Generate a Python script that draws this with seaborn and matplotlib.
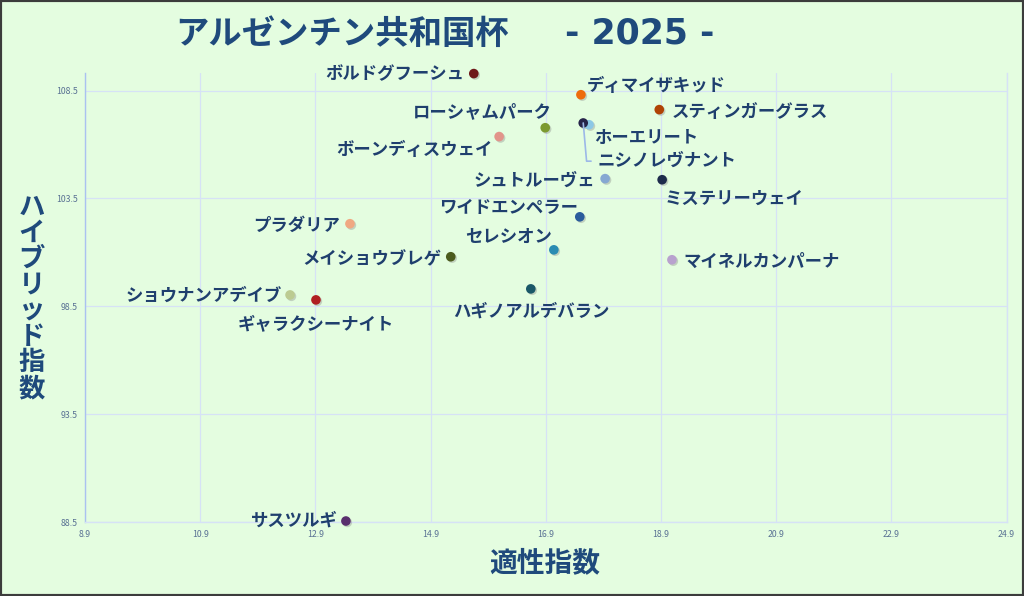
import matplotlib
matplotlib.use("Agg")
import matplotlib.pyplot as plt
import matplotlib.patheffects as pe
import seaborn as sns
import pandas as pd
from matplotlib.patches import Rectangle

names = ["ボルドグフーシュ", "ディマイザキッド", "スティンガーグラス", "ローシャムパーク",
         "ホーエリート", "ニシノレヴナント", "ボーンディスウェイ", "シュトルーヴェ",
         "ミステリーウェイ", "ワイドエンペラー", "プラダリア", "セレシオン",
         "メイショウブレゲ", "マイネルカンパーナ", "ハギノアルデバラン", "ショウナンアデイブ",
         "ギャラクシーナイト", "サスツルギ"]
aptitude = [15.65, 17.51, 18.87, 16.89, 17.65, 17.55, 16.09, 17.93,
            18.92, 17.49, 13.50, 17.04, 15.25, 19.09, 16.64, 12.46, 12.91, 13.43]
hybrid = [109.29, 108.31, 107.62, 106.78, 106.92, 107.00, 106.37, 104.42,
          104.37, 102.65, 102.33, 101.12, 100.80, 100.66, 99.31, 99.03, 98.80, 88.55]
colors = ["#6e1719", "#ee6c0c", "#b04304", "#7c9a30", "#8cc8e6", "#26244a", "#e2948a", "#86a8d2",
          "#1e2c4c", "#2a5c9c", "#f0a882", "#2a8cb2", "#4c5c1e", "#b8a2ce", "#1a5868", "#bccb92",
          "#b01f22", "#5a2f6e"]
x_ticks = [8.9, 10.9, 12.9, 14.9, 16.9, 18.9, 20.9, 22.9, 24.9]
y_ticks = [88.5, 93.5, 98.5, 103.5, 108.5]
title_main = "アルゼンチン共和国杯"
title_year = "- 2025 -"

# label placement (offset in points, horizontal alignment)
label_pos = {
    "ボルドグフーシュ": (-7, 1, "right"),
    "ディマイザキッド": (4, 8, "left"),
    "スティンガーグラス": (9, 0, "left"),
    "ローシャムパーク": (5, 13, "right"),
    "ホーエリート": (4, -8, "left"),
    "ニシノレヴナント": (10, -26, "left"),
    "ボーンディスウェイ": (-5, -8, "right"),
    "シュトルーヴェ": (-7, 0, "right"),
    "ミステリーウェイ": (2, -12, "left"),
    "ワイドエンペラー": (-1, 8, "right"),
    "プラダリア": (-7, 0, "right"),
    "セレシオン": (-1, 11, "right"),
    "メイショウブレゲ": (-7, 0, "right"),
    "マイネルカンパーナ": (8, 0, "left"),
    "ハギノアルデバラン": (0, -15, "center"),
    "ショウナンアデイブ": (-6, 1, "right"),
    "ギャラクシーナイト": (0, -16, "center"),
    "サスツルギ": (-6, 2, "right"),
}
label_dy_shift = -1.5

df = pd.DataFrame({"name": names, "x": aptitude, "y": hybrid})
palette = dict(zip(names, colors))

bg = "#e4fde0"
text_c = "#1f3f6e"
sns.set_theme(style="whitegrid")
plt.rcParams['font.family'] = ['Noto Sans CJK JP', 'DejaVu Sans']

fig = plt.figure(figsize=(10.24, 5.96), dpi=100, facecolor=bg)
ax = fig.add_axes([0.083, 0.124, 0.9, 0.754])
ax.set_facecolor(bg)

sns.scatterplot(data=df, x="x", y="y", hue="name", palette=palette, s=48,
                edgecolor="none", legend=False, ax=ax, zorder=3, clip_on=False)
for coll in ax.collections:
    coll.set_path_effects([pe.SimplePatchShadow(offset=(1, -1), shadow_rgbFace="#808080", alpha=0.35),
                           pe.Normal()])

ax.set_xlim(8.9, 24.9)
ax.set_ylim(88.5, 109.33)
ax.set_xticks(x_ticks)
ax.set_xticklabels([f"{v:.1f}" for v in x_ticks])
ax.set_yticks(y_ticks)
ax.set_yticklabels([f"{v:.1f}" for v in y_ticks])
ax.tick_params(axis="both", labelsize=6.3, colors="#5a7294", length=0, pad=5)
ax.tick_params(axis="x", pad=6)
ax.grid(True, color="#d6e2f6", linewidth=0.9)
ax.spines["top"].set_visible(False)
ax.spines["left"].set_color("#aac2f0")
ax.spines["bottom"].set_color("#d6e2f6")
ax.spines["right"].set_color("#d6e2f6")
for s in ["left", "bottom", "right"]:
    ax.spines[s].set_linewidth(1.0)

ax.set_xlabel("")
ax.set_ylabel("")

for n, xv, yv in zip(names, aptitude, hybrid):
    dx, dy, ha = label_pos[n]
    kw = dict(xy=(xv, yv), xytext=(dx, dy + label_dy_shift), textcoords="offset points",
              ha=ha, va="center", fontsize=12.5, fontweight="bold", color=text_c, zorder=4)
    if n == "ニシノレヴナント":
        kw["arrowprops"] = dict(arrowstyle="-", color="#9cb8e8", lw=1.2,
                                connectionstyle="angle,angleA=0,angleB=95,rad=0",
                                shrinkA=2, shrinkB=0)
    ax.annotate(n, **kw)

fig.text(0.171, 0.943, title_main, ha="left", va="center",
         fontsize=24, fontweight="bold", color="#1f4a7c")
fig.text(0.552, 0.943, title_year, ha="left", va="center",
         fontsize=25, fontweight="bold", color="#1f4a7c",
         family=["DejaVu Sans"])
fig.text(0.532, 0.055, "適性指数", ha="center", va="center",
         fontsize=20, fontweight="bold", color="#1f4a7c")
fig.text(0.031, 0.5, "\n".join("ハイブリッド指数"), ha="center", va="center",
         fontsize=19, fontweight="bold", color="#1f4a7c", linespacing=0.95)

fig.patches.append(Rectangle((0, 0), 1, 1, transform=fig.transFigure, fill=False,
                             edgecolor="#3c3c3c", linewidth=3))

fig.savefig("out.png", dpi=100, facecolor=bg)
